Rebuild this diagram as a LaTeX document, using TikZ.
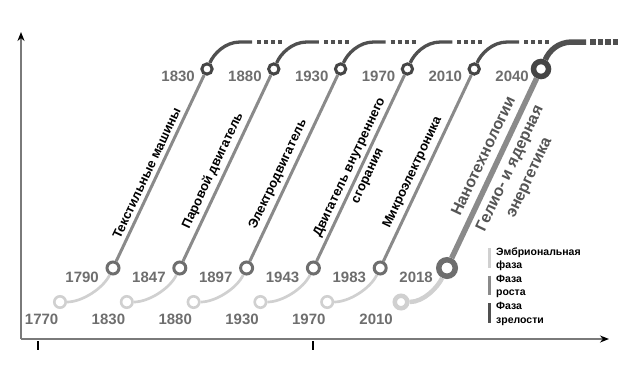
\documentclass[tikz,border=0pt]{standalone}
\usepackage{fontspec}
\setmainfont{Liberation Sans}
\usetikzlibrary{arrows.meta}
\definecolor{cLight}{HTML}{D0D0D0}
\definecolor{cMid}{HTML}{8A8A8A}
\definecolor{cMidC}{HTML}{6E6E6E}
\definecolor{cDark}{HTML}{505050}
\definecolor{cDarkC}{HTML}{454545}
\definecolor{cYear}{HTML}{6E6E6E}
\definecolor{cAxis}{HTML}{7A7A7A}
\definecolor{cBig}{HTML}{555555}
\begin{document}
\begin{tikzpicture}[x=1pt,y=-1pt,
 lcirc/.style={circle,draw=cLight,line width=2.6pt,fill=white,minimum size=11.4pt,inner sep=0pt},
 mcirc/.style={circle,draw=cMidC,line width=3pt,fill=white,minimum size=12pt,inner sep=0pt},
 tcirc/.style={circle,draw=cDarkC,line width=3pt,fill=white,minimum size=10.3pt,inner sep=0pt},
 lcurve/.style={draw=cLight,line width=2.7pt},
 mline/.style={draw=cMid,line width=3pt},
 tcurve/.style={draw=cDark,line width=3.3pt},
 tdots/.style={draw=cDark,line width=3.3pt,dash pattern=on 4pt off 3pt},
 year/.style={font=\bfseries\fontsize{15}{18}\selectfont,text=cYear,inner sep=0pt,anchor=east},
 lab/.style={font=\bfseries\fontsize{13}{15}\selectfont,sloped,anchor=south,inner xsep=0pt,inner ysep=4pt},
 axisline/.style={draw=cAxis,line width=2.2pt},
 axisarrow/.style={axisline,-{Stealth[black,length=9pt,width=7pt]}},
 tick/.style={draw=black,line width=1.3pt},
 legbar/.style={line width=3pt},
 legtext/.style={font=\bfseries\fontsize{10.5}{13.3}\selectfont,align=left,anchor=north west,inner sep=0pt},
]
\useasboundingbox (0,0) rectangle (636,372);

% axes
\coordinate (O) at (21,339);
\coordinate (YT) at (21,32);
\coordinate (XT) at (609,339);
\draw[axisarrow] (O) -- (YT);
\draw[axisarrow] (O) -- (XT);
\coordinate (K1a) at (38,341); \coordinate (K1b) at (38,350);
\coordinate (K2a) at (313,341); \coordinate (K2b) at (313,350);
\draw[tick] (K1a) -- (K1b);
\draw[tick] (K2a) -- (K2b);

% series 0..4
\foreach \i/\yb/\ym/\yt in {0/1770/1790/1830,1/1830/1847/1880,2/1880/1897/1930,3/1930/1943/1970,4/1970/1983/2010}{
  \pgfmathsetmacro\dx{66.8*\i}
  \node[lcirc] (L\i) at (60+\dx,302) {};
  \node[mcirc] (M\i) at (113+\dx,268) {};
  \node[tcirc] (T\i) at (207+\dx,69) {};
  \coordinate (H\i) at (240+\dx,42);
  \coordinate (E\i) at (252+\dx,42);
  \coordinate (D\i) at (257+\dx,42);
  \coordinate (F\i) at (284+\dx,42);
  \draw[lcurve] (L\i.east) .. controls (82+\dx,302) and (103.3+\dx,288.4) .. (M\i.244);
  \draw[tcurve] (T\i.65) .. controls (213.5+\dx,54) and (225+\dx,42) .. (H\i) -- (E\i);
  \draw[tdots] (D\i) -- (F\i);
  \node[year] (YB\i) at (58.5+\dx,319.5) {\yb};
  \node[year] (YM\i) at (99+\dx,277) {\ym};
  \node[year] (YT\i) at (195+\dx,76) {\yt};
}
\draw[mline] (M0) -- (T0) node[lab,pos=0.45] (N0) {Текстильные машины};
\draw[mline] (M1) -- (T1) node[lab,pos=0.46] (N1) {Паровой двигатель};
\draw[mline] (M2) -- (T2) node[lab,pos=0.44] (N2) {Электродвигатель};
\draw[mline] (M3) -- (T3) node[sloped,anchor=center,pos=0.48,align=center,inner sep=0pt,
   font=\bfseries\fontsize{13}{20}\selectfont] (N3) {Двигатель внутреннего\\сгорания};
\draw[mline] (M4) -- (T4) node[lab,pos=0.45] (N4) {Микроэлектроника};

% series 5
\node[circle,draw=cLight,line width=4.5pt,fill=white,minimum size=12.5pt,inner sep=0pt] (L5) at (401,302) {};
\node[circle,draw=cMidC,line width=5.5pt,fill=white,minimum size=16.5pt,inner sep=0pt] (M5) at (447,268) {};
\node[circle,draw=cDarkC,line width=5.5pt,fill=white,minimum size=15pt,inner sep=0pt] (T5) at (541,69) {};
\coordinate (H5) at (572,42);
\coordinate (E5) at (586,42);
\coordinate (D5) at (590,42);
\coordinate (F5) at (618,42);
\draw[draw=cLight,line width=4.5pt] (L5.east) .. controls (424,302) and (437.9,287) .. (M5.244);
\draw[draw=cMid,line width=5.5pt] (M5) -- (T5);
\draw[draw=cDark,line width=5.5pt] (T5.65) .. controls (549,51) and (558,42) .. (H5) -- (E5);
\draw[draw=cDark,line width=5.5pt,dash pattern=on 5.5pt off 2pt] (D5) -- (F5);
\node[year] (YB5) at (393,319.5) {2010};
\node[year] (YM5) at (433,277) {2018};
\node[year] (YT5) at (529,76) {2040};
\node[rotate=64.7,align=center,inner sep=0pt,text=cBig,font=\bfseries\fontsize{16}{21}\selectfont] (N5) at (506.9,167.1)
  {Нанотехнологии\\[8pt]Гелио- и ядерная\\энергетика};

% legend
\coordinate (B1a) at (489.5,248); \coordinate (B1b) at (489.5,268);
\coordinate (B2a) at (489.5,275.5); \coordinate (B2b) at (489.5,295);
\coordinate (B3a) at (489.5,303); \coordinate (B3b) at (489.5,323);
\draw[legbar,draw=cLight] (B1a) -- (B1b);
\draw[legbar,draw=cMid] (B2a) -- (B2b);
\draw[legbar,draw=cDark] (B3a) -- (B3b);
\node[legtext] (G1) at (496,247.5) {Эмбриональная\\фаза};
\node[legtext] (G2) at (496,275) {Фаза\\роста};
\node[legtext] (G3) at (496,302.5) {Фаза\\зрелости};
\end{tikzpicture}
\end{document}
